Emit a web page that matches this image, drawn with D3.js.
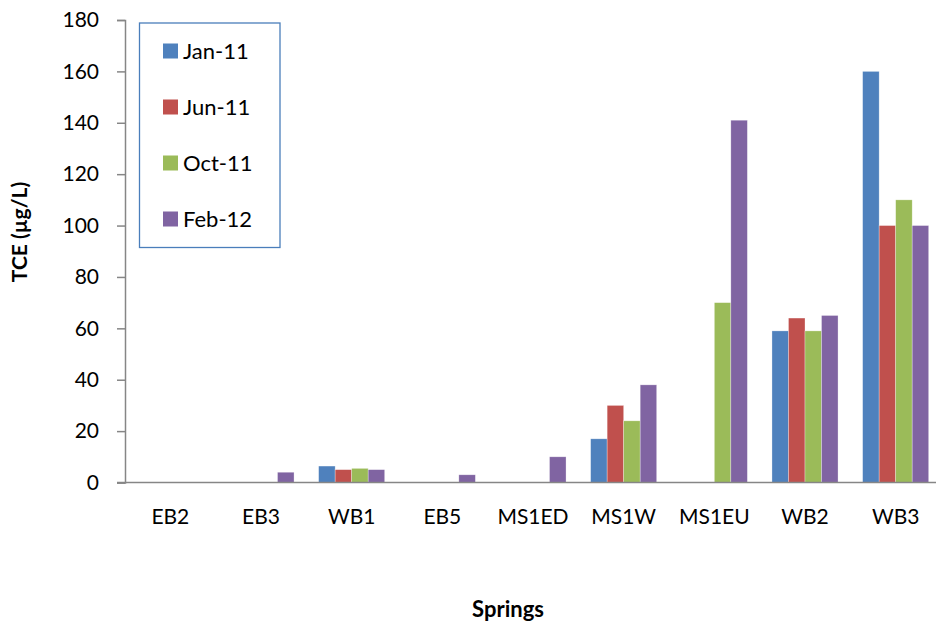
<!DOCTYPE html>
<html>
<head>
<meta charset="utf-8">
<script src="https://cdn.jsdelivr.net/npm/d3@7"></script>
<style>
  body { margin: 0; background: #fff; }
  svg { font-family: Lato, "Open Sans", sans-serif; }
</style>
</head>
<body>
<svg id="chart" width="936" height="630"></svg>
<script>
// data
var springs = ["EB2", "EB3", "WB1", "EB5", "MS1ED", "MS1W", "MS1EU", "WB2", "WB3"];
var seriesNames = ["Jan-11", "Jun-11", "Oct-11", "Feb-12"];
var jan11 = [0, 0, 6.4, 0, 0, 17, 0, 59, 160];
var jun11 = [0, 0, 5, 0, 0, 30, 0, 64, 100];
var oct11 = [0, 0, 5.5, 0, 0, 24, 70, 59, 110];
var feb12 = [0, 4, 5, 3, 10, 38, 141, 65, 100];
var yTicks = [0, 20, 40, 60, 80, 100, 120, 140, 160, 180];

var colors = ["#4f81bd", "#c0504d", "#9bbb59", "#8064a2"];
var series = [jan11, jun11, oct11, feb12];

var svg = d3.select("#chart");
var axisColor = "#868686";
var font = "Lato, 'Open Sans', sans-serif";

var x = d3.scaleBand()
    .domain(springs)
    .range([125, 941]);

var x1 = d3.scaleBand()
    .domain(d3.range(seriesNames.length))
    .range([12.3, x.bandwidth() - 12.3]);

var y = d3.scaleLinear()
    .domain([0, 180])
    .range([482.5, 20]);

// bars
var groups = svg.append("g").selectAll("g")
    .data(springs)
    .enter().append("g")
    .attr("transform", function(d) { return "translate(" + x(d) + ",0)"; });

groups.selectAll("rect")
    .data(function(d, i) {
        return series.map(function(s, k) { return { k: k, v: s[i] }; })
            .filter(function(b) { return b.v > 0; });
    })
    .enter().append("rect")
    .attr("x", function(d) { return x1(d.k); })
    .attr("width", x1.bandwidth())
    .attr("y", function(d) { return y(d.v); })
    .attr("height", function(d) { return y(0) - y(d.v); })
    .attr("fill", function(d) { return colors[d.k]; })
    .attr("stroke", "rgba(255,255,255,0.5)")
    .attr("stroke-width", 0.6);

// y axis
var gy = svg.append("g")
    .attr("transform", "translate(125,0)")
    .call(d3.axisLeft(y).tickValues(yTicks).tickSize(8).tickPadding(18));
gy.select(".domain").attr("stroke", axisColor).attr("stroke-width", 1.5);
gy.selectAll(".tick line").attr("stroke", axisColor).attr("stroke-width", 1.5);
gy.selectAll(".tick text")
    .attr("font-size", 21)
    .attr("fill", "#000")
    .style("font-family", font);

// x axis
var gx = svg.append("g")
    .attr("transform", "translate(0," + y(0) + ")")
    .call(d3.axisBottom(x).tickSize(0));
gx.select(".domain").attr("stroke", axisColor).attr("stroke-width", 1.5)
    .attr("d", "M117,0H941");
gx.selectAll(".tick text")
    .attr("y", 41.5)
    .attr("dy", 0)
    .attr("font-size", 21)
    .attr("fill", "#000")
    .style("font-family", font);

// axis titles
svg.append("text")
    .attr("transform", "translate(27,232) rotate(-90)")
    .attr("text-anchor", "middle")
    .attr("font-size", 21)
    .attr("font-weight", "bold")
    .text("TCE (µg/L)");

svg.append("text")
    .attr("x", 508)
    .attr("y", 617)
    .attr("text-anchor", "middle")
    .attr("font-size", 22)
    .attr("font-weight", "bold")
    .text("Springs");

// legend
var legend = svg.append("g");
legend.append("rect")
    .attr("x", 139.5)
    .attr("y", 23)
    .attr("width", 140.5)
    .attr("height", 224.5)
    .attr("fill", "#fff")
    .attr("stroke", "#4a7ebb")
    .attr("stroke-width", 1.3);

var items = legend.selectAll("g.item")
    .data(seriesNames)
    .enter().append("g")
    .attr("class", "item")
    .attr("transform", function(d, i) { return "translate(163," + (51 + i * 56) + ")"; });

items.append("rect")
    .attr("x", 0)
    .attr("y", -7.5)
    .attr("width", 15)
    .attr("height", 15)
    .attr("fill", function(d, i) { return colors[i]; });

items.append("text")
    .attr("x", 20)
    .attr("y", 0)
    .attr("dy", "0.36em")
    .attr("font-size", 22)
    .text(function(d) { return d; });
</script>
</body>
</html>
